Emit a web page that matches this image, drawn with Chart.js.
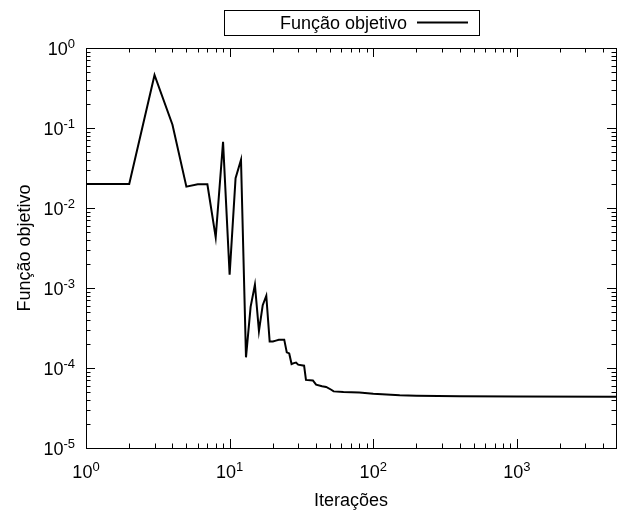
<!DOCTYPE html>
<html>
<head>
<meta charset="utf-8">
<script src="https://cdn.jsdelivr.net/npm/chart.js@4/dist/chart.umd.min.js"></script>
<style>
    body { margin: 0; background: #fff; }
    #wrap { width: 620px; height: 513px; }
</style>
</head>
<body>
<div id="wrap"><canvas id="grafico" width="620" height="513"></canvas></div>
<script>
// iteracoes e valor da funcao objetivo
var iteracoes = [1, 2, 3, 4, 5, 6, 7, 8, 9, 10, 11, 12, 13, 14, 15, 16, 17, 18, 19, 20, 21, 22, 24, 25, 26, 27, 28, 29, 30, 33, 34, 38, 40, 44, 47, 51, 53, 62, 80, 100, 153, 200, 400, 1000, 4900];
var funcaoObjetivo = [0.02, 0.02, 0.46, 0.11, 0.0185, 0.0198, 0.0198, 0.0043, 0.067, 0.00147, 0.0236, 0.04, 1.36e-4, 5.8e-4, 1.1e-3, 2.9e-4, 6.1e-4, 8e-4, 2.14e-4, 2.14e-4, 2.2e-4, 2.25e-4, 2.26e-4, 1.57e-4, 1.52e-4, 1.12e-4, 1.15e-4, 1.17e-4, 1.1e-4, 1.07e-4, 7.1e-5, 7.0e-5, 6.2e-5, 5.9e-5, 5.8e-5, 5.35e-5, 5.1e-5, 5.0e-5, 4.93e-5, 4.75e-5, 4.55e-5, 4.5e-5, 4.45e-5, 4.4e-5, 4.38e-5];
var decadasX = [0, 1, 2, 3];
var decadasY = [0, -1, -2, -3, -4, -5];
var legenda = "Função objetivo";
var tituloX = "Iterações";
var tituloY = "Função objetivo";

var fonte = '"Liberation Sans", Arial, sans-serif';

var pontos = iteracoes.map(function (it, i) {
    return { x: it, y: funcaoObjetivo[i] };
});

function rotuloPotencia(ctx, exp, x, y, alinhar) {
    ctx.font = "18px " + fonte;
    var w1 = ctx.measureText("10").width;
    ctx.font = "13px " + fonte;
    var w2 = ctx.measureText(String(exp)).width;
    var x0 = alinhar === "right" ? x - (w1 + w2) : x - (w1 + w2) / 2;
    ctx.textAlign = "left";
    ctx.textBaseline = "alphabetic";
    ctx.font = "18px " + fonte;
    ctx.fillText("10", x0, y);
    ctx.font = "13px " + fonte;
    ctx.fillText(String(exp), x0 + w1, y - 7);
}

var estiloGnuplot = {
    id: "estiloGnuplot",
    afterDraw: function (chart) {
        var ctx = chart.ctx;
        var a = chart.chartArea;
        var sx = chart.scales.x, sy = chart.scales.y;
        ctx.save();
        ctx.strokeStyle = "#000";
        ctx.fillStyle = "#000";
        ctx.lineWidth = 1;

        // moldura
        ctx.strokeRect(Math.round(a.left) + 0.5, Math.round(a.top) + 0.5, Math.round(a.right - a.left), Math.round(a.bottom - a.top));

        // marcas eixo x
        ctx.beginPath();
        for (var d = 0; d <= 3; d++) {
            for (var m = 1; m <= 9; m++) {
                var v = m * Math.pow(10, d);
                if (v > sx.max) break;
                var px = Math.round(sx.getPixelForValue(v)) + 0.5;
                var len = m === 1 ? 9 : 4.5;
                ctx.moveTo(px, a.bottom); ctx.lineTo(px, a.bottom - len);
                ctx.moveTo(px, a.top); ctx.lineTo(px, a.top + len);
            }
        }
        // marcas eixo y
        for (var e = -5; e <= 0; e++) {
            for (var k = 1; k <= 9; k++) {
                var vy = k * Math.pow(10, e);
                if (vy > sy.max + 1e-12) break;
                var py = Math.round(sy.getPixelForValue(vy)) + 0.5;
                var leny = k === 1 ? 9 : 4.5;
                ctx.moveTo(a.left, py); ctx.lineTo(a.left + leny, py);
                ctx.moveTo(a.right, py); ctx.lineTo(a.right - leny, py);
            }
        }
        ctx.stroke();

        // rotulos
        decadasX.forEach(function (d) {
            rotuloPotencia(ctx, d, sx.getPixelForValue(Math.pow(10, d)), a.bottom + 30, "center");
        });
        decadasY.forEach(function (d) {
            rotuloPotencia(ctx, d, a.left - 11, sy.getPixelForValue(Math.pow(10, d)) + 6.5, "right");
        });

        // titulos
        ctx.font = "18px " + fonte;
        ctx.textAlign = "center";
        ctx.fillText(tituloX, (a.left + a.right) / 2, 506);
        ctx.save();
        ctx.translate(30, (a.top + a.bottom) / 2);
        ctx.rotate(-Math.PI / 2);
        ctx.fillText(tituloY, 0, 0);
        ctx.restore();

        // legenda
        ctx.strokeRect(224.5, 10.5, 255, 25);
        ctx.textAlign = "right";
        ctx.fillText(legenda, 407, 29);
        ctx.lineWidth = 2;
        ctx.beginPath();
        ctx.moveTo(417, 22.5); ctx.lineTo(468, 22.5);
        ctx.stroke();
        ctx.restore();
    }
};

new Chart(document.getElementById("grafico"), {
    type: "line",
    data: {
        datasets: [
            {
                label: legenda,
                data: pontos,
                borderColor: "#000",
                borderWidth: 2,
                pointRadius: 0,
                tension: 0,
                fill: false,
            },
        ],
    },
    options: {
        responsive: false,
        animation: false,
        layout: {
            padding: { top: 48, right: 4, left: 0, bottom: 0 },
        },
        plugins: {
            legend: { display: false },
            tooltip: { enabled: false },
        },
        scales: {
            x: {
                type: "logarithmic",
                min: 1,
                max: 4900,
                grid: { display: false },
                border: { display: false },
                ticks: { display: false },
                afterFit: function (s) { s.height = 65; },
            },
            y: {
                type: "logarithmic",
                min: 1e-5,
                max: 1,
                grid: { display: false },
                border: { display: false },
                ticks: { display: false },
                afterFit: function (s) { s.width = 86; },
            },
        },
    },
    plugins: [estiloGnuplot],
});
</script>
</body>
</html>
